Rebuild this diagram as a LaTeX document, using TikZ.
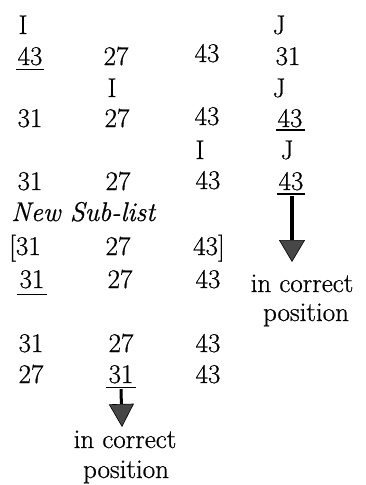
\documentclass[tikz,border=0pt]{standalone}
\usepackage{fontspec}
\setmainfont{Latin Modern Roman}[FakeBold=0.7]
\usetikzlibrary{arrows.meta}
\begin{document}
\begin{tikzpicture}[x=1pt,y=-1pt,
  t/.style={anchor=base,inner sep=0pt,font=\fontsize{27}{32}\selectfont},
  tw/.style={t,anchor=base west},
  ul/.style={line width=1.3pt},
  bigarrow/.style={line width=3.5pt,-{Triangle[width=26pt,length=22pt,line width=0.6pt,fill=black!72]}},
  smallarrow/.style={line width=3pt,-{Triangle[width=25pt,length=23pt,line width=0.6pt,fill=black!72]}}]
\fill[white] (0,0) rectangle (366,485);
\useasboundingbox (0,0) rectangle (366,485);
% row A
\node[t] (ia) at (23,34) {I};
\node[t] (ja) at (279,34) {J};
% row 1
\node[t] (r1a) at (30,65) {43};
\node[t] (r1b) at (116,65) {27};
\node[t] (r1c) at (207,62) {43};
\node[t] (r1d) at (288,65) {31};
% row B
\node[t] (ib) at (112,97) {I};
\node[t] (jb) at (279,97) {J};
% row 2
\node[t] (r2a) at (30,127) {31};
\node[t] (r2b) at (117,127) {27};
\node[t] (r2c) at (207,125) {43};
\node[t] (r2d) at (290,127) {43};
% row C
\node[t] (ic) at (200,159) {I};
\node[t] (jc) at (287,159) {J};
% row 3
\node[t] (r3a) at (30,190) {31};
\node[t] (r3b) at (118,190) {27};
\node[t] (r3c) at (208,189) {43};
\node[t] (r3d) at (291,190) {43};
% new sub-list
\node[tw,font=\fontsize{27}{32}\selectfont\itshape] (nsl) at (11,221) {New Sub-list};
\node[tw] (r4a) at (9,255) {[31};
\node[t] (r4b) at (118,255) {27};
\node[tw] (r4c) at (193,255) {43]};
% row 5
\node[t] (r5a) at (32,288) {31};
\node[t] (r5b) at (120,288) {27};
\node[t] (r5c) at (208,288) {43};
\node[t] (ic1) at (302,292) {in correct};
\node[t] (pos1) at (306,321) {position};
% row 6
\node[t] (r6a) at (31,352) {31};
\node[t] (r6b) at (121,352) {27};
\node[t] (r6c) at (208,352) {43};
% row 7
\node[t] (r7a) at (31,383) {27};
\node[t] (r7b) at (121,383) {31};
\node[t] (r7c) at (208,383) {43};
\node[t] (ic2) at (125,448) {in correct};
\node[t] (pos2) at (126,478) {position};
% underlines
\draw[ul] ([xshift=-1pt,yshift=-4pt]r1a.south west) -- ([xshift=1pt,yshift=-4pt]r1a.south east);
\draw[ul] ([xshift=-1pt,yshift=-2.5pt]r2d.south west) -- ([xshift=2pt,yshift=-2.5pt]r2d.south east);
\draw[ul] ([xshift=-1pt,yshift=-3.5pt]r3d.south west) -- ([xshift=1pt,yshift=-3.5pt]r3d.south east);
\draw[ul] ([xshift=-2pt,yshift=-6pt]r5a.south west) -- ([xshift=2pt,yshift=-6pt]r5a.south east);
\draw[ul] ([xshift=-2pt,yshift=-4pt]r7b.south west) -- ([xshift=2pt,yshift=-4pt]r7b.south east);
% arrows
\coordinate (tip1) at (292,262);
\coordinate (tip2) at (122,427);
\draw[bigarrow] ([xshift=1pt,yshift=-5pt]r3d.south) -- (tip1);
\draw[smallarrow] ([yshift=-5.5pt]r7b.south) -- (tip2);
\end{tikzpicture}
\end{document}
